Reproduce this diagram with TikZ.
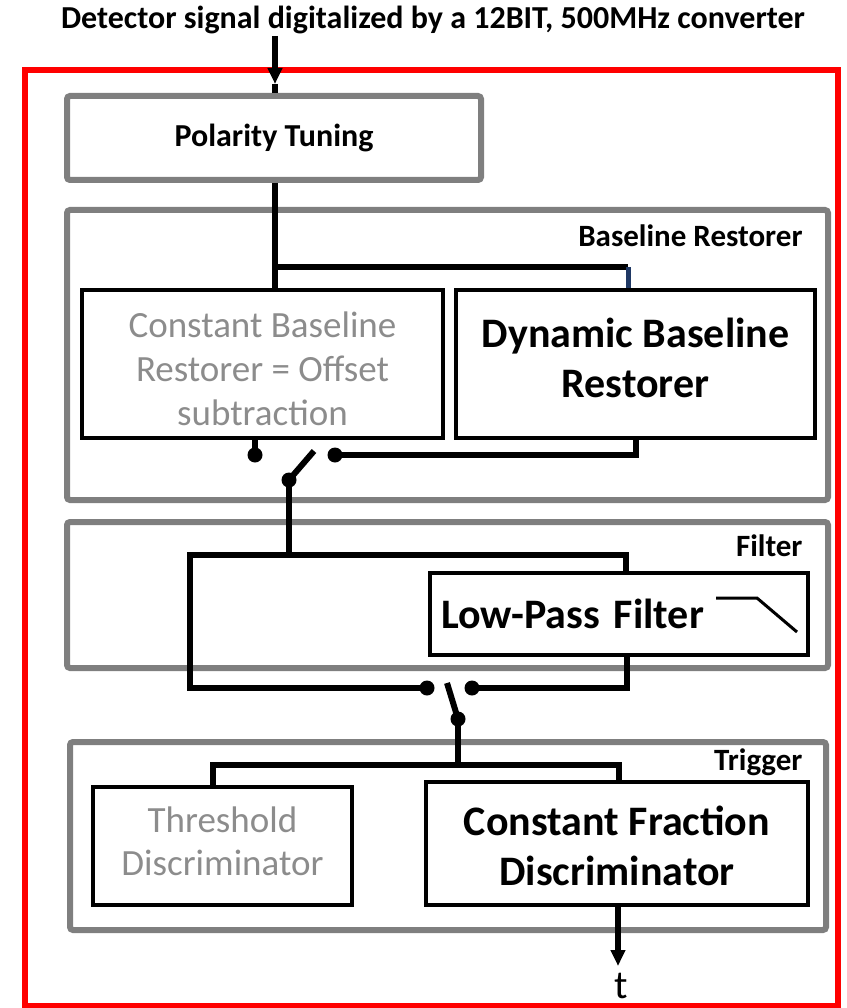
\documentclass[tikz,border=0pt]{standalone}
\usepackage{fontspec}
\setmainfont{Carlito}
\usetikzlibrary{arrows.meta}
\definecolor{grp}{RGB}{127,127,127}
\definecolor{txtgray}{RGB}{140,140,140}
\definecolor{dblue}{RGB}{31,56,100}
\tikzset{
  grpbox/.style={draw=grp,line width=6pt,rounded corners=3pt},
  blk/.style={draw=black,line width=4pt,inner sep=0pt},
  btxt/.style={align=center,inner sep=0pt},
  wire/.style={line width=6pt,black},
  grplabel/.style={anchor=east,font=\bfseries\fontsize{31}{36}\selectfont},
}
\begin{document}
\begin{tikzpicture}[x=1pt,y=-1pt]
\useasboundingbox (0,0) rectangle (846,1008);
\clip (0,0) rectangle (846,1008);
% title
\node[font=\bfseries\fontsize{32}{36}\selectfont] (title) at (433,20) {Detector signal digitalized by a 12BIT, 500MHz converter};
% red frame
\draw[red,line width=6pt] (25,70) rectangle (838,1006);
% groups
\draw[grpbox] (67,210) rectangle (828,500);
\draw[grpbox] (67,522) rectangle (828,668);
\draw[grpbox] (70,742) rectangle (826,930);
\node[grplabel] (lbr) at (806,236) {Baseline Restorer};
\node[grplabel] (lfi) at (806,546) {Filter};
\node[grplabel] (ltr) at (806,762) {Trigger};
% polarity
\node[draw=grp,line width=6pt,rounded corners=3pt,minimum width=414pt,minimum height=84pt,font=\bfseries\fontsize{32}{36}\selectfont] (pol) at (274,138) {Polarity Tuning};
% arrow in
\coordinate (ain) at (275,36);
\coordinate (atip) at (275,84);
\draw[wire,-{Triangle[length=16pt,width=14pt]}] (ain) -- (atip);
\draw[wire] (atip) -- (ain |- pol.north);
% baseline boxes
\node[blk,minimum width=361pt,minimum height=148pt,
  label={[btxt,name=cbrtxt,text=txtgray,font=\fontsize{37}{44}\selectfont,yshift=-5pt]center:{Constant Baseline\\Restorer = Offset\\subtraction}}] (cbr) at (262.5,364) {};
\node[blk,minimum width=359pt,minimum height=148pt,
  label={[btxt,name=dbrtxt,font=\bfseries\fontsize{42}{50}\selectfont,yshift=6pt]center:{Dynamic Baseline\\Restorer}}] (dbr) at (635.5,364) {};
\coordinate (j1) at (275,267);
\coordinate (j1r) at (628,267);
\draw[wire] (pol.south -| j1) -- (j1 |- cbr.north);
\draw[wire] (j1) -- (j1r);
\draw[line width=5pt,dblue] (j1r) -- (j1r |- dbr.north);
% switch 1
\coordinate (s1a) at (255,455);
\coordinate (s1b) at (335,455);
\coordinate (s1c) at (636,455);
\coordinate (s1p) at (289,480);
\coordinate (s1t) at (314,451);
\draw[wire] (s1a |- cbr.south) -- (s1a);
\draw[wire] (s1b) -- (s1c) -- (s1c |- dbr.south);
\draw[wire] (s1p) -- (s1t);
\fill (s1a) circle (7.5) (s1b) circle (7.5) (s1p) circle (7.5);
% filter
\node[blk,minimum width=378pt,minimum height=82pt,font=\bfseries\fontsize{42}{48}\selectfont,text width=372pt,align=left] (lpf) at (619,614) {\hspace*{8pt}Low-Pass Filter};
\coordinate (lp1) at (716,598);
\coordinate (lp2) at (757,598);
\coordinate (lp3) at (797,632);
\draw[line width=3pt] (lp1) -- (lp2) -- (lp3);
\coordinate (l1) at (190,555);
\coordinate (l2) at (626,555);
\coordinate (l3) at (190,688);
\coordinate (s2a) at (427,688);
\coordinate (s2b) at (472,688);
\coordinate (l4) at (627,688);
\draw[wire] (s1p) -- (s1p |- l1);
\draw[wire] (l2 |- lpf.north) -- (l2) -- (l1) -- (l3) -- (s2a);
\draw[wire] (s2b) -- (l4) -- (l4 |- lpf.south);
\coordinate (s2p) at (458,719);
\coordinate (s2t) at (447,683);
\draw[wire] (s2p) -- (s2t);
\fill (s2a) circle (7.5) (s2b) circle (7.5) (s2p) circle (7.5);
% trigger
\node[blk,minimum width=259pt,minimum height=118pt,
  label={[btxt,name=thrtxt,text=txtgray,font=\fontsize{37}{43}\selectfont,yshift=5pt]center:{Threshold\\Discriminator}}] (thr) at (222.5,846) {};
\node[blk,minimum width=382pt,minimum height=123pt,
  label={[btxt,name=cfdtxt,font=\bfseries\fontsize{42}{50}\selectfont,yshift=-2.5pt]center:{Constant Fraction\\Discriminator}}] (cfd) at (617,843.5) {};
\coordinate (b1) at (213,765);
\coordinate (b2) at (619,765);
\coordinate (bm) at (458,765);
\draw[wire] (s2p) -- (bm);
\draw[wire] (b1 |- thr.north) -- (b1) -- (b2) -- (b2 |- cfd.north);
% output
\coordinate (tout) at (618,966);
\draw[wire,-{Triangle[length=16pt,width=14pt]}] (tout |- cfd.south) -- (tout);
\node[font=\fontsize{40}{46}\selectfont] (t) at (621,986) {t};
\end{tikzpicture}
\end{document}
